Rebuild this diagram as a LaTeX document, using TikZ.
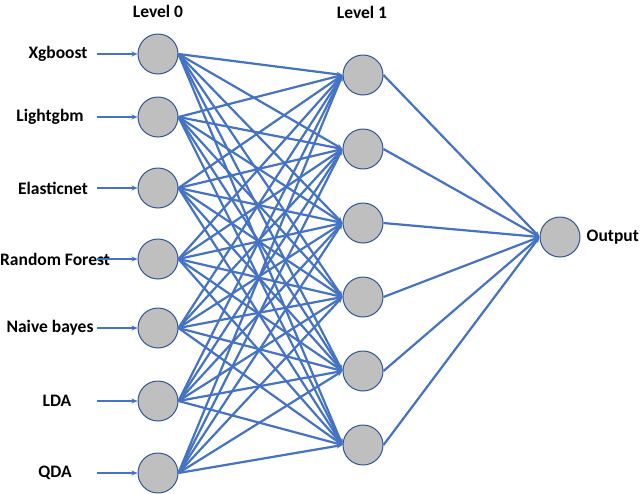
\documentclass[tikz,border=0pt]{standalone}
\usepackage{fontspec}
\setmainfont{Carlito}
\usetikzlibrary{arrows.meta}
\definecolor{linkblue}{HTML}{4472C4}
\definecolor{ringblue}{HTML}{2F5597}
\definecolor{cellgray}{HTML}{BFBFBF}
\tikzset{
  unit/.style={circle, draw=ringblue, fill=cellgray, line width=1pt, minimum size=40pt, inner sep=0pt},
  link/.style={draw=linkblue, line width=2.2pt, -{Stealth[length=6pt,width=5pt]}},
  tag/.style={font=\bfseries\fontsize{17.5}{20}\selectfont, inner sep=0pt}
}
\begin{document}
\begin{tikzpicture}[x=1pt,y=-1pt]
\useasboundingbox (0,0) rectangle (640,493);
\node[tag] (lvl0) at (158,11) {Level 0};
\node[tag] (lvl1) at (362,12) {Level 1};
% base learners
\foreach \n/\x/\y/\name in {1/58/54/Xgboost,2/50/117/Lightgbm,3/53/188/Elasticnet,4/55/259/Random Forest,5/50/328/Naive bayes,6/57/401/LDA,7/55/473/QDA}
{
  \node[unit] (a\n) at (158,\y) {};
  \node[tag] (in\n) at (\x,\y) {\name};
  \coordinate (s\n) at (97,\y);
  \draw[link] (s\n) -- (a\n.west);
}
% level 1
\foreach \k in {1,...,6}
{
  \pgfmathsetmacro\y{75+74*(\k-1)}
  \node[unit] (b\k) at (363,\y) {};
}
\node[unit] (out) at (560,237) {};
\node[tag, right=6pt] (outtag) at (out.east) {Output};
\foreach \n in {1,...,7}
  \foreach \k in {1,...,6}
    \draw[link] (a\n.east) -- (b\k.west);
\foreach \k in {1,...,6}
  \draw[link] (b\k.east) -- (out.west);
\end{tikzpicture}
\end{document}
